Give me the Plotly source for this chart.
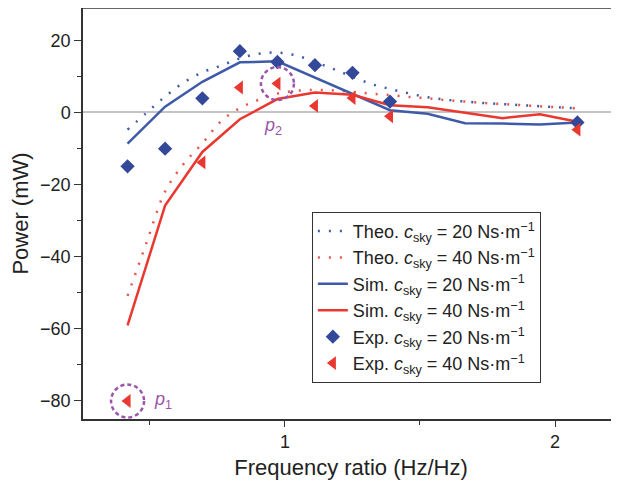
import plotly.graph_objects as go

# ---- data ----
freq_exp = [0.417, 0.556, 0.694, 0.833, 0.972, 1.111, 1.250, 1.389, 2.083]
exp20 = [-15.0, -10.1, 3.9, 17.0, 14.0, 13.1, 11.0, 3.0, -2.8]

freq_exp40 = [0.417, 0.694, 0.833, 0.972, 1.111, 1.250, 1.389, 2.083]
exp40 = [-80.2, -13.9, 6.9, 8.0, 1.8, 4.0, -1.1, -4.8]

freq_sim = [0.417, 0.556, 0.694, 0.833, 0.972, 1.111, 1.250, 1.389,
            1.528, 1.667, 1.806, 1.944, 2.083]
sim20 = [-8.7, 1.6, 8.5, 13.9, 14.2, 9.7, 5.1, 0.6, -0.4, -3.0, -3.1, -3.4, -2.8]
sim40 = [-59.2, -25.9, -11.0, -1.9, 3.7, 5.5, 4.9, 2.0, 1.4, 0.0, -1.6, -0.5, -2.6]

freq_theo = [0.417, 0.486, 0.556, 0.625, 0.694, 0.764, 0.833, 0.903, 0.972,
             1.042, 1.111, 1.181, 1.250, 1.319, 1.389, 1.458, 1.528, 1.597,
             1.667, 1.736, 1.806, 1.875, 1.944, 2.014, 2.083]
theo20 = [-4.8, -0.2, 4.4, 8.3, 11.1, 13.0, 15.0, 16.3, 16.6,
          15.8, 14.0, 12.0, 9.9, 7.9, 6.5, 5.3, 4.2, 3.5,
          3.0, 2.6, 2.3, 2.0, 1.7, 1.4, 1.1]
theo40 = [-51.0, -36.5, -22.0, -14.3, -8.6, -2.4, 1.2, 3.5, 5.2,
          6.0, 6.2, 6.1, 5.7, 5.2, 4.8, 4.3, 3.9, 3.4,
          3.0, 2.6, 2.3, 2.0, 1.7, 1.4, 1.1]

highlight_x = [0.417, 0.972]
highlight_y = [-80.2, 8.0]
highlight_labels = ["<i>p</i><sub>1</sub>", "<i>p</i><sub>2</sub>"]
label_x = [0.55, 0.956]
label_y = [-80.0, -3.8]

x_ticks = [1, 2]
y_ticks = [20, 0, -20, -40, -60, -80]
y_ticktext = ["20", "0", "−20", "−40", "−60", "−80"]

BLUE = "#3f5aa8"
BLUE_MK = "#34489a"
RED = "#e8382f"
PURPLE = "#9b55ab"
FONT = "Liberation Sans, Arial, sans-serif"


def leg(kind, c):
    return f"{kind} <i>c</i><sub>sky</sub> = {c} Ns·m<sup>−1</sup>"


fig = go.Figure()
fig.add_trace(go.Scatter(x=freq_theo, y=theo20, mode="lines", name=leg("Theo.", 20),
                         line=dict(color=BLUE, width=2.5, dash="2px,9px", shape="spline")))
fig.add_trace(go.Scatter(x=freq_theo, y=theo40, mode="lines", name=leg("Theo.", 40),
                         line=dict(color="#e8554d", width=2.5, dash="2px,9px", shape="spline")))
fig.add_trace(go.Scatter(x=freq_sim, y=sim20, mode="lines", name=leg("Sim.", 20),
                         line=dict(color=BLUE, width=2.5)))
fig.add_trace(go.Scatter(x=freq_sim, y=sim40, mode="lines", name=leg("Sim.", 40),
                         line=dict(color=RED, width=2.5)))
fig.add_trace(go.Scatter(x=freq_exp, y=exp20, mode="markers", name=leg("Exp.", 20),
                         marker=dict(symbol="diamond", size=11, color=BLUE_MK)))
fig.add_trace(go.Scatter(x=freq_exp40, y=exp40, mode="markers", name=leg("Exp.", 40),
                         marker=dict(symbol="triangle-left", size=12, color=RED)))

for hx, hy in zip(highlight_x, highlight_y):
    fig.add_shape(type="circle", xref="x", yref="y", xsizemode="pixel", ysizemode="pixel",
                  xanchor=hx, yanchor=hy, x0=-16.5, x1=16.5, y0=-16.5, y1=16.5,
                  line=dict(color=PURPLE, width=2.5, dash="4px,3px"))

# top frame line
fig.add_shape(type="line", xref="paper", yref="paper", x0=0, x1=1.02, y0=1, y1=1,
              line=dict(color="#333333", width=1.5))

for lx, ly, lt in zip(label_x, label_y, highlight_labels):
    fig.add_annotation(x=lx, y=ly, xref="x", yref="y", text=lt, showarrow=False,
                       font=dict(color=PURPLE, size=18, family=FONT))

fig.update_layout(
    width=611, height=472,
    margin=dict(l=75, r=0, t=0, b=55),
    paper_bgcolor="#ffffff", plot_bgcolor="#ffffff",
    font=dict(family=FONT, size=18, color="#222222"),
    showlegend=True,
    legend=dict(x=0.427, y=0.504, xanchor="left", yanchor="top",
                bgcolor="#ffffff", bordercolor="#333333", borderwidth=1,
                font=dict(size=18, family=FONT), tracegroupgap=0),
    xaxis=dict(range=[0.252, 2.237], tickvals=x_ticks, ticks="outside", ticklen=6,
               tickcolor="#333333", showline=True, linecolor="#333333", linewidth=1.5,
               mirror=False, showgrid=False, zeroline=False,
               minor=dict(dtick=0.5, tick0=0, ticks="outside", ticklen=4, tickcolor="#333333"),
               title=dict(text="Frequency ratio (Hz/Hz)", standoff=12)),
    yaxis=dict(range=[-85.2, 29.0], tickvals=y_ticks, ticktext=y_ticktext,
               ticks="outside", ticklen=7, tickcolor="#333333", mirror=False,
               showline=True, linecolor="#333333", linewidth=1.5, showgrid=False,
               zeroline=True, zerolinecolor="#c4c4c4", zerolinewidth=2,
               minor=dict(dtick=10, tick0=0, ticks="outside", ticklen=4, tickcolor="#333333"),
               title=dict(text="Power (mW)", standoff=10)),
)

fig.write_html("out.html")
